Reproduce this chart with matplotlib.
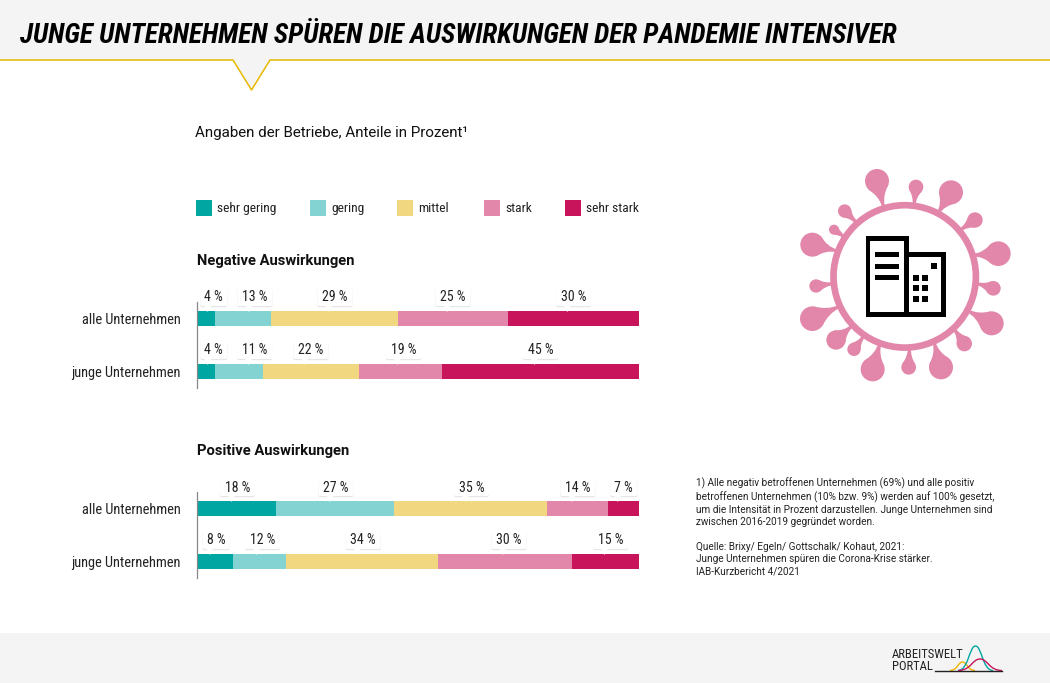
import matplotlib
matplotlib.use("Agg")
import matplotlib.pyplot as plt
from matplotlib.patches import Rectangle, Circle, Polygon, FancyBboxPatch, PathPatch
from matplotlib.path import Path

TITLE = "JUNGE UNTERNEHMEN SPÜREN DIE AUSWIRKUNGEN DER PANDEMIE INTENSIVER"
SUBTITLE = "Angaben der Betriebe, Anteile in Prozent¹"

levels = ["sehr gering", "gering", "mittel", "stark", "sehr stark"]
colors = ["#00a6a1", "#82d3d1", "#f1d880", "#e287aa", "#c8145a"]
rows = ["alle Unternehmen", "junge Unternehmen"]

negative_alle = [4, 13, 29, 25, 30]
negative_junge = [4, 11, 22, 19, 45]
positive_alle = [18, 27, 35, 14, 7]
positive_junge = [8, 12, 34, 30, 15]

note = (
    "1) Alle negativ betroffenen Unternehmen (69%) und alle positiv\n"
    "betroffenen Unternehmen (10% bzw. 9%) werden auf 100% gesetzt,\n"
    "um die Intensität in Prozent darzustellen. Junge Unternehmen sind\n"
    "zwischen 2016-2019 gegründet worden.\n"
    "\n"
    "Quelle: Brixy/ Egeln/ Gottschalk/ Kohaut, 2021:\n"
    "Junge Unternehmen spüren die Corona-Krise stärker.\n"
    "IAB-Kurzbericht 4/2021"
)

NARROW = ["Roboto Condensed", "Roboto", "DejaVu Sans"]
plt.rcParams["font.family"] = ["Roboto", "DejaVu Sans"]

W, H = 1050, 683
fig = plt.figure(figsize=(W / 100, H / 100), dpi=100, facecolor="white")

# overlay in pixel coordinates for everything that is not a bar
ov = fig.add_axes([0, 0, 1, 1], zorder=5)
ov.set_xlim(0, W)
ov.set_ylim(H, 0)
ov.axis("off")
ov.patch.set_alpha(0)


def stacked_panel(top, bottom, values, nudges):
    ax = fig.add_axes([197 / W, 1 - bottom / H, 442 / W, (bottom - top) / H], zorder=2)
    ax.set_xlim(0, 100)
    ax.set_ylim(1 + 16.5 / 53, -16.5 / 53)
    for r, row_values in enumerate(values):
        total = sum(row_values)
        left = 0
        for i, v in enumerate(row_values):
            share = v / total * 100
            ax.barh(r, share, left=left, height=0.283, color=colors[i], linewidth=0)
            callout(ax, left + share / 2, r, f"{v} %", nudges[r][i])
            left += share
    ax.set_xlim(0, 100)
    ax.set_ylim(1 + 16.5 / 53, -16.5 / 53)
    ax.set_yticks(range(len(rows)))
    ax.set_yticklabels(rows, family=NARROW, fontsize=10.4, color="#222222")
    ax.tick_params(axis="y", length=0, pad=12)
    ax.set_xticks([])
    for side in ["top", "right", "bottom"]:
        ax.spines[side].set_visible(False)
    ax.spines["left"].set_color("#888888")
    ax.spines["left"].set_linewidth(0.9)
    ax.patch.set_alpha(0)


def callout(ax, x, r, label, nudge):
    # box sits above the bar, the pointer ends inside it
    px, py = ax.transData.transform((x, r))
    cx = px + nudge
    bar_top = H - py - 7.5
    w = 27 if len(label) == 3 else 35
    box_top, box_bottom = bar_top - 23, bar_top - 5
    for off, fc in [(1.2, "#e6e6e6"), (0, "white")]:
        ov.add_patch(FancyBboxPatch((cx - w / 2 + 2, box_top + 2 + off), w - 4, 14,
                                    boxstyle="round,pad=2,rounding_size=2", fc=fc, ec="none", zorder=6))
    ov.add_patch(Polygon([(cx - 9.5, box_bottom - 0.5), (cx - 2.5, box_bottom - 0.5), (cx - 6, bar_top + 1)],
                         fc="white", ec="none", zorder=7))
    ov.text(cx, box_top + 9.5, label, ha="center", va="center", family=NARROW, fontsize=10, color="#222222", zorder=8)


# header and footer
ov.add_patch(Rectangle((0, 0), W, 60, fc="#f4f4f4", ec="none"))
ov.add_patch(Rectangle((0, 633), W, 50, fc="#f4f4f4", ec="none"))
ov.plot([0, 233, 251.5, 270, W], [60, 60, 90, 60, 60], color="#e6b800", lw=1.1)
ov.add_patch(Polygon([(233, 59), (251.5, 89), (270, 59)], fc="#f4f4f4", ec="none"))
ov.text(20, 43, TITLE, family=NARROW, fontsize=19.75, fontweight="bold", fontstyle="italic",
        color="black", va="baseline")

ov.text(195, 132.5, SUBTITLE, fontsize=10.9, va="center", color="#111111")

# legend
for x, level, color in zip([196, 310, 397, 484, 565], levels, colors):
    ov.add_patch(Rectangle((x, 200), 16, 16, fc=color, ec="none"))
    ov.text(x + 21, 208.5, level, family=NARROW, fontsize=9.7, va="center", color="#222222")

ov.text(197, 260.5, "Negative Auswirkungen", fontsize=10.6, fontweight="bold", va="center", color="#111111")
ov.text(197, 451.5, "Positive Auswirkungen", fontsize=10.6, fontweight="bold", va="center", color="#111111")

stacked_panel(302, 388, [negative_alle, negative_junge],
              [[8, 12, 0, 0, 0], [8, 16, 0, 3, 0]])
stacked_panel(492, 578, [positive_alle, positive_junge],
              [[1, 1, 1, 0, 0], [1, 3, 1, 4, 5]])

ov.text(696, 477, note, fontsize=7.2, va="top", linespacing=1.29, color="#222222")


def z(x, y):
    return x / 3 + 780, y / 3 + 150


PINK = "#e287aa"
blobs = [
    (291, 93, 36, 308, 160), (408, 111, 22, 403, 155), (513, 127, 36, 480, 180),
    (585, 210, 23, 548, 235), (655, 311, 37, 590, 315), (640, 415, 22, 600, 403),
    (635, 520, 36, 572, 487), (553, 581, 23, 528, 545), (483, 652, 36, 465, 587),
    (386, 652, 22, 388, 603), (278, 658, 36, 297, 590), (222, 598, 20, 245, 567),
    (168, 570, 29, 208, 535), (97, 506, 37, 170, 473), (108, 408, 20, 150, 402),
    (97, 284, 36, 160, 300), (162, 239, 15, 185, 255), (194, 183, 20, 222, 210),
]
for bx, by, br, sx, sy in blobs:
    cx, cy = z(bx, by)
    ex, ey = z(sx, sy)
    rad = br / 3
    ov.add_patch(Circle((cx, cy), rad, fc=PINK, ec="none", zorder=3))
    dx, dy = ex - cx, ey - cy
    d = (dx ** 2 + dy ** 2) ** 0.5
    ux, uy = dx / d, dy / d
    nx, ny = -uy, ux

    def pt(along, side):
        return cx + ux * along + nx * side, cy + uy * along + ny * side

    # flared stem, wide where it leaves the blob and thin at the ring
    ctrl = rad + 0.35 * (d - rad)
    verts = [pt(0.5 * rad, 0.866 * rad), pt(ctrl, 1.5), pt(d + 3, 1.5),
             pt(d + 3, -1.5), pt(ctrl, -1.5), pt(0.5 * rad, -0.866 * rad),
             pt(0.5 * rad, 0.866 * rad)]
    codes = [Path.MOVETO, Path.CURVE3, Path.CURVE3, Path.LINETO, Path.CURVE3, Path.CURVE3, Path.CLOSEPOLY]
    ov.add_patch(PathPatch(Path(verts, codes), fc=PINK, ec="none", zorder=3))
ov.add_patch(Circle((904.7, 276.4), 71.2, fc="white", ec=PINK, lw=4.8, zorder=4))


def zrect(x0, y0, x1, y1, **kw):
    ax0, ay0 = z(x0, y0)
    ax1, ay1 = z(x1, y1)
    ov.add_patch(Rectangle((ax0, ay0), ax1 - ax0, ay1 - ay0, zorder=5, **kw))


zrect(257, 258, 386, 500, fc="black", ec="none")
zrect(271, 272, 372, 486, fc="white", ec="none")
zrect(372, 306, 497, 500, fc="black", ec="none")
zrect(386, 320, 483, 486, fc="white", ec="none")
for y0 in [305, 341, 376]:
    zrect(286, y0, 358, y0 + 15, fc="black", ec="none")
zrect(452, 339, 471, 358, fc="black", ec="none")
for y0 in [374, 406, 439]:
    for x0 in [398, 426]:
        zrect(x0, y0, x0 + 18, y0 + 18, fc="black", ec="none")

# logo
ov.text(892, 654.5, "ARBEITSWELT", family=NARROW, fontsize=9.1, va="center", color="#222222")
ov.text(892, 667, "PORTAL", family=NARROW, fontsize=9.1, va="center", color="#222222")
ov.plot([935, 1002], [670.5, 670.5], color="#222222", lw=1, zorder=3)


def bump(x0, x1, top, color):
    mid = (x0 + x1) / 2
    w = x1 - x0
    verts = [(x0, 670.5), (x0 + w * 0.3, 670.5), (mid - w * 0.18, top), (mid, top),
             (mid + w * 0.18, top), (x1 - w * 0.3, 670.5), (x1, 670.5)]
    codes = [Path.MOVETO] + [Path.CURVE4] * 6
    ov.add_patch(PathPatch(Path(verts, codes), fc="none", ec=color, lw=1, zorder=2))


bump(950, 975, 662, "#f0b400")
bump(958, 993, 646, "#00a6a1")
bump(958, 1002, 659, "#c8145a")

fig.savefig("out.png", dpi=100, facecolor="white")
